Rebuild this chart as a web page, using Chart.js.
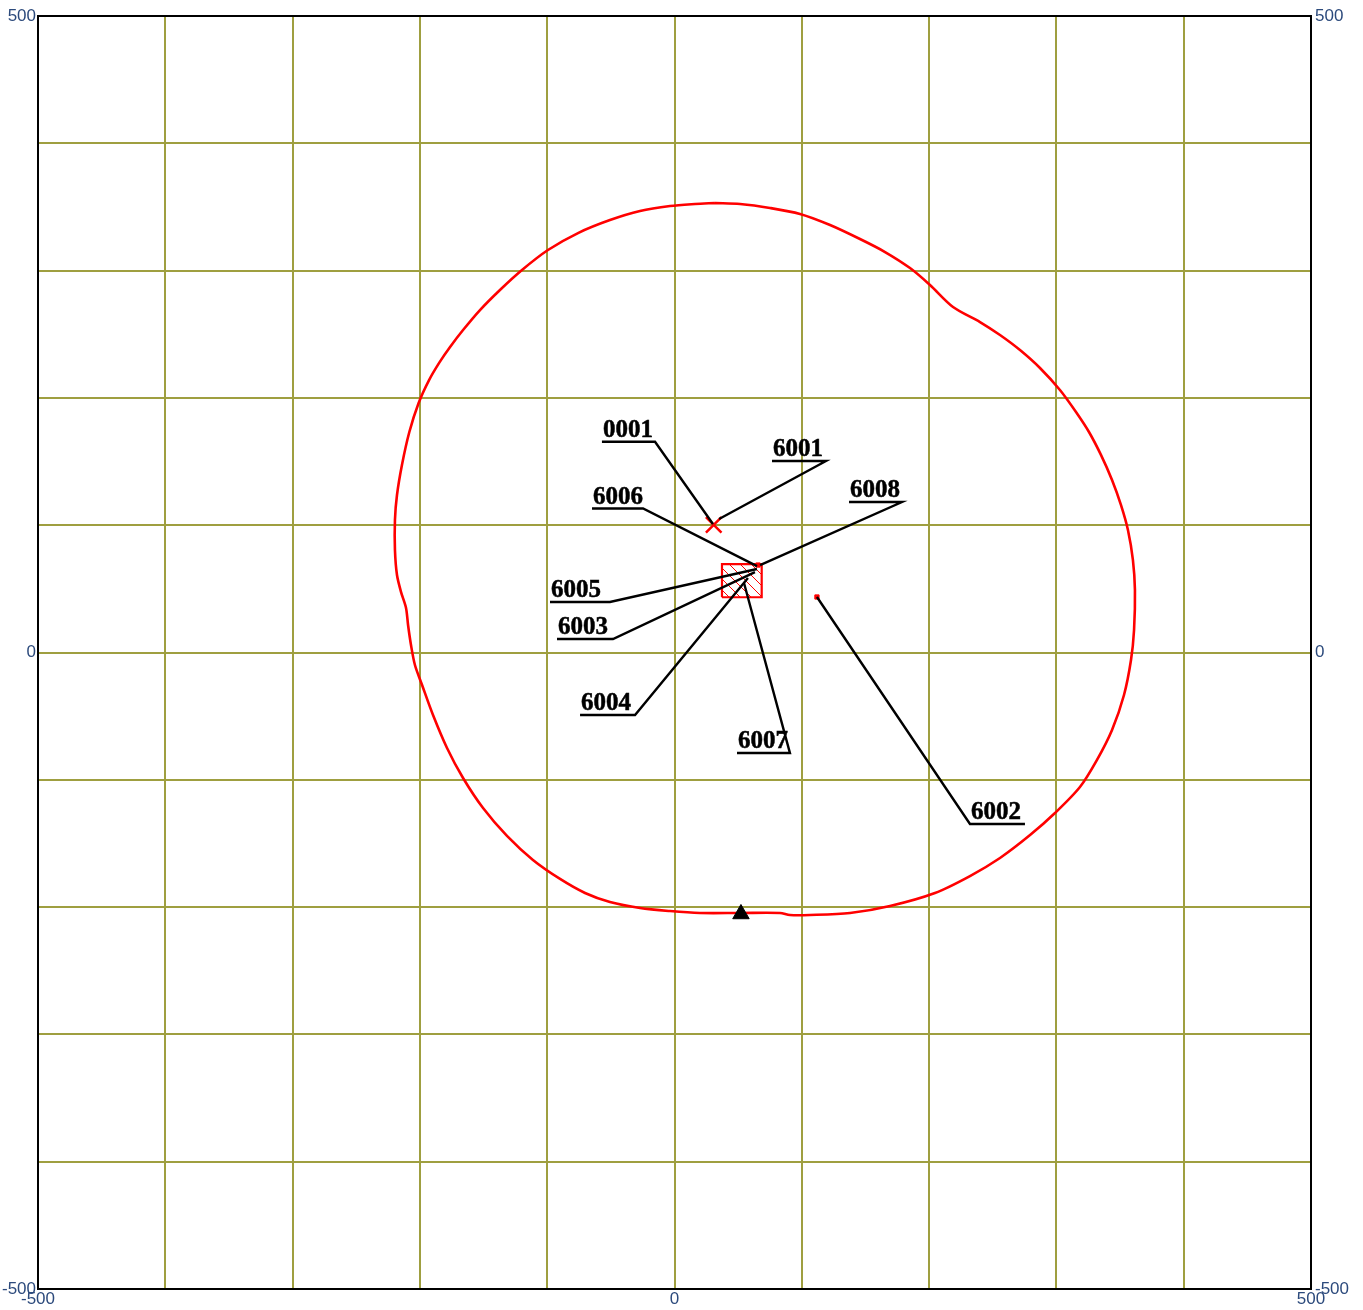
<!DOCTYPE html>
<html><head><meta charset="utf-8">
<style>html,body{margin:0;padding:0;background:#fff;}canvas{display:block;}</style>
<script src="https://cdn.jsdelivr.net/npm/chart.js@4/dist/chart.umd.min.js"></script>
</head><body>
<canvas id="c" width="1363" height="1310"></canvas>
<script>
// ---- data (all in chart units, -500..500) ----
const tickValues = [-500, 0, 500];

const contourX = [31.8, 51.5, 75.0, 98.6, 122.2, 145.7, 165.4, 185.0, 200.7, 218.8, 240.0, 255.7, 271.4, 287.1, 302.8, 315.4, 325.6, 335.0, 343.7, 350.7, 356.2, 360.1, 361.7, 361.0, 358.6, 353.1, 343.7, 331.9, 318.5, 298.9, 279.3, 255.7, 232.1, 204.6, 169.3, 137.9, 106.4, 90.7, 82.9, 51.5, 20.0, -3.5, -27.1, -50.7, -70.3, -89.9, -111.2, -131.6, -150.4, -166.1, -178.7, -189.7, -198.3, -203.9, -207.0, -209.3, -210.9, -214.8, -218.0, -219.6, -219.6, -218.0, -214.1, -208.3, -201.0, -192.8, -184.5, -176.3, -166.1, -152.8, -137.1, -119.8, -99.4, -75.8, -50.7, -27.1, -3.5, 16.1, 31.8];
const contourY = [353.1, 352.3, 349.2, 344.5, 335.8, 324.8, 314.6, 302.0, 288.7, 271.4, 259.6, 249.4, 237.6, 223.5, 206.2, 188.9, 173.2, 155.2, 135.5, 115.9, 96.2, 72.7, 49.1, 17.7, -5.9, -33.4, -60.9, -84.4, -105.7, -126.1, -143.4, -161.4, -175.6, -188.9, -199.1, -204.6, -206.2, -206.2, -204.6, -204.6, -204.6, -203.1, -200.7, -196.0, -188.9, -177.9, -163.0, -144.1, -122.2, -98.6, -75.0, -49.1, -25.5, -9.8, 5.9, 21.6, 35.0, 47.5, 60.9, 80.5, 104.1, 123.7, 147.3, 173.2, 196.0, 214.0, 228.1, 240.0, 253.3, 269.0, 284.8, 300.5, 316.2, 329.5, 339.7, 346.8, 350.7, 352.3, 353.1];

const labelNames  = ['0001', '6001', '6006', '6008', '6005', '6003', '6004', '6007', '6002'];
const sourceX     = [30.2, 35.0, 64.8, 67.2, 64.8, 63.2, 57.7, 54.6, 111.9];
const sourceY     = [100.9, 104.9, 67.9, 68.7, 65.6, 63.2, 58.5, 54.6, 43.6];
const underLeftX  = [-57.0, 76.6, -64.8, 137.1, -97.8, -92.3, -74.2, 49.1, 232.1];
const underRightX = [-15.3, 119.0, -24.7, 178.7, -50.7, -48.3, -31.0, 90.7, 275.3];
const underY      = [165.6, 150.4, 113.1, 118.2, 39.7, 10.6, -49.1, -79.0, -134.7];
const attachRight = [true, true, true, true, true, true, true, true, false];

const crossX = [30.8], crossY = [100.2];            // source 0001 (X marker)
const areaX = [37.3, 68.5], areaY = [43.4, 69.5];   // hatched area source
const dotX = [111.9, 65.6], dotY = [43.6, 68.7];    // small point sources
const triX = [52.2], triY = [-205.4];               // triangle marker

// ---- build datasets ----
const zip = (xs, ys) => xs.map((v, i) => ({x: v, y: ys[i]}));

const ctx = document.getElementById('c').getContext('2d');
const pc = document.createElement('canvas');
pc.width = 11; pc.height = 11;
const pctx = pc.getContext('2d');
pctx.strokeStyle = '#ff0000'; pctx.lineWidth = 1;
pctx.beginPath(); pctx.moveTo(-1, -1); pctx.lineTo(12, 12); pctx.stroke();
const hatch = ctx.createPattern(pc, 'repeat');

const datasets = [];
labelNames.forEach((n, i) => {
  const ax = attachRight[i] ? underRightX[i] : underLeftX[i];
  const ox = attachRight[i] ? underLeftX[i] : underRightX[i];
  datasets.push({
    label: n,
    data: [{x: sourceX[i], y: sourceY[i]}, {x: ax, y: underY[i]}, {x: ox, y: underY[i]}],
    showLine: true, borderColor: '#000', borderWidth: 2.4, pointRadius: 0, tension: 0, order: 0
  });
});
datasets.push({ label: 'cross', data: zip(crossX, crossY), pointStyle: 'crossRot', pointRadius: 11,
  borderColor: '#ff0000', borderWidth: 2.5, order: 1 });
datasets.push({ label: 'dots', data: zip(dotX, dotY), pointStyle: 'rect', pointRadius: 3,
  borderColor: '#ff0000', backgroundColor: '#ff0000', borderWidth: 1, order: 1 });
datasets.push({ label: 'tri', data: zip(triX, triY), pointStyle: 'triangle', pointRadius: 9.5,
  borderColor: '#000', backgroundColor: '#000', borderWidth: 1, order: 1 });
datasets.push({ label: 'area',
  data: [{x: areaX[0], y: areaY[0]}, {x: areaX[1], y: areaY[0]}, {x: areaX[1], y: areaY[1]}, {x: areaX[0], y: areaY[1]}, {x: areaX[0], y: areaY[0]}],
  showLine: true, borderColor: '#ff0000', borderWidth: 2.2, pointRadius: 0, tension: 0,
  fill: 'shape', backgroundColor: hatch, order: 2 });
datasets.push({ label: 'contour', data: zip(contourX, contourY), showLine: true, borderColor: '#ff0000',
  borderWidth: 2.6, pointRadius: 0, tension: 0.3, fill: false, order: 3 });

const tickCb = v => tickValues.includes(v) ? String(v) : '';
const tickFont = { family: "'Liberation Sans Narrow', 'Arial Narrow', 'Liberation Sans', Arial, sans-serif", size: 17 };
const tickColor = '#2c4a7c';
const gridColor = '#9f9f40';

const framePlugin = {
  id: 'frame',
  beforeDatasetsDraw(chart) {
    const a = chart.chartArea, c = chart.ctx;
    c.save(); c.strokeStyle = '#000'; c.lineWidth = 2;
    c.strokeRect(a.left, a.top, a.right - a.left, a.bottom - a.top);
    c.restore();
  }
};
const labelPlugin = {
  id: 'labels',
  afterDatasetsDraw(chart) {
    const xs = chart.scales.x, ys = chart.scales.y, c = chart.ctx;
    c.save();
    c.fillStyle = '#000'; c.strokeStyle = '#000'; c.lineWidth = 0.5;
    c.font = "bold 25px 'Liberation Serif', 'Times New Roman', serif";
    c.textAlign = 'left'; c.textBaseline = 'alphabetic';
    labelNames.forEach((n, i) => {
      const px = xs.getPixelForValue(underLeftX[i]) + 1, py = ys.getPixelForValue(underY[i]) - 5;
      c.fillText(n, px, py);
      c.strokeText(n, px, py);
    });
    c.restore();
  }
};

new Chart(ctx, {
  type: 'scatter',
  data: { datasets },
  options: {
    responsive: false, animation: false, devicePixelRatio: 1,
    layout: { padding: { top: 16, left: 0, right: 0, bottom: 0 } },
    plugins: { legend: { display: false }, tooltip: { enabled: false } },
    scales: {
      x: { type: 'linear', position: 'bottom', min: -500, max: 500,
        ticks: { stepSize: 100, autoSkip: false, maxRotation: 0, callback: tickCb, font: tickFont, color: tickColor, padding: 0 },
        grid: { color: gridColor, lineWidth: 2, drawTicks: false }, border: { display: false },
        afterFit(s) { s.height = 21; } },
      y: { type: 'linear', position: 'left', min: -500, max: 500,
        ticks: { stepSize: 100, autoSkip: false, callback: tickCb, font: tickFont, color: tickColor, padding: 2 },
        grid: { color: gridColor, lineWidth: 2, drawTicks: false }, border: { display: false },
        afterFit(s) { s.width = 38; } },
      y2: { type: 'linear', position: 'right', min: -500, max: 500,
        ticks: { stepSize: 100, autoSkip: false, callback: tickCb, font: tickFont, color: tickColor, padding: 4 },
        grid: { display: false, drawTicks: false }, border: { display: false },
        afterFit(s) { s.width = 52; } }
    }
  },
  plugins: [framePlugin, labelPlugin]
});
</script>
</body></html>
